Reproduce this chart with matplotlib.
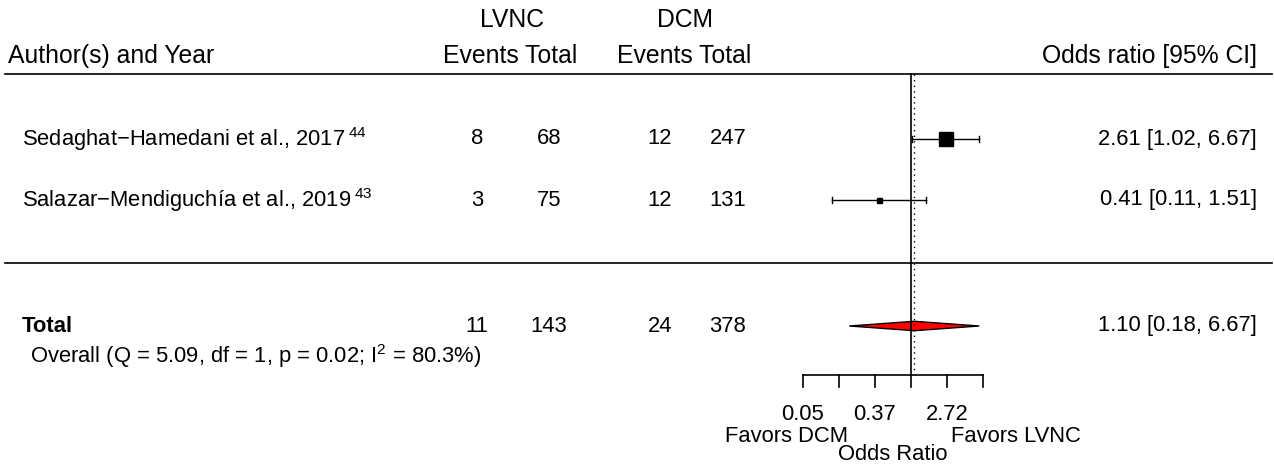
import numpy as np
import matplotlib
matplotlib.use("Agg")
import matplotlib.pyplot as plt
from matplotlib.patches import Polygon

plt.rcParams['font.family'] = ['Liberation Sans', 'DejaVu Sans']
plt.rcParams['mathtext.default'] = 'regular'

# data
studies = ['Sedaghat\u2212Hamedani et al., 2017', 'Salazar\u2212Mendiguch\u00eda et al., 2019']
refs = ['44', '43']
lvnc_events = [8, 3]
lvnc_total = [68, 75]
dcm_events = [12, 12]
dcm_total = [247, 131]
odds_ratio = [2.61, 0.41]
ci_low = [1.02, 0.11]
ci_high = [6.67, 1.51]

pooled_or = 1.10
pooled_low = 0.18
pooled_high = 6.67
het_q = 5.09
het_df = 1
het_p = 0.02
het_i2 = 80.3

axis_ticks = [-3, -2, -1, 0, 1, 2]
labeled_ticks = [-3, -1, 1]

# layout (pixel based helpers)
W, H = 1274, 468
X0, XS = 911, 36.0      # pixel of log(OR)=0, pixels per log unit
Y1, YS = 200, 61.0      # pixel of row 1, pixels per row
FS = 15.8
FSH = 17.8              # header text


def xpx(px):
    return (px - X0) / XS


def ypx(py):
    return 1 + (Y1 - py) / YS


fig = plt.figure(figsize=(W / 100, H / 100), dpi=100)
ax = fig.add_axes([0, 0, 1, 1])
ax.set_xlim(xpx(0), xpx(W))
ax.set_ylim(ypx(H), ypx(0))
ax.axis('off')

k = len(studies)
rows = np.arange(k, 0, -1)
lor = np.log(odds_ratio)
llo = np.log(ci_low)
lhi = np.log(ci_high)

# weights -> square size (metafor style scaling)
se = (lhi - llo) / (2 * 1.96)
w = 1 / se ** 2
psize = (w - w.min()) / (w.max() - w.min()) * (10.2 - 3.6) + 3.6

top = ypx(74)
bottom = ypx(375)
ax.plot([xpx(5), xpx(1272)], [top, top], color='black', lw=1.2)
ax.plot([xpx(5), xpx(1272)], [ypx(263), ypx(263)], color='black', lw=1.2)
ax.plot([0, 0], [top, bottom], color='black', lw=1.2)
ax.plot([np.log(pooled_or)] * 2, [top, bottom], color='black', lw=1.0, ls=(0, (1, 3)))

cap = 3 / YS
for i in range(k):
    y = rows[i]
    ax.plot([llo[i], lhi[i]], [y, y], color='black', lw=1.0)
    ax.plot([llo[i], llo[i]], [y - cap, y + cap], color='black', lw=1.0)
    ax.plot([lhi[i], lhi[i]], [y - cap, y + cap], color='black', lw=1.0)
    ax.plot(lor[i], y, marker='s', ms=psize[i], color='black', mec='black')

    ax.text(xpx(22), y, studies[i] + '$\\,^{' + refs[i] + '}$', fontsize=FS, ha='left', va='center')
    ax.text(xpx(477), y, str(lvnc_events[i]), fontsize=FS, ha='center', va='center')
    ax.text(xpx(549), y, str(lvnc_total[i]), fontsize=FS, ha='center', va='center')
    ax.text(xpx(660), y, str(dcm_events[i]), fontsize=FS, ha='center', va='center')
    ax.text(xpx(728), y, str(dcm_total[i]), fontsize=FS, ha='center', va='center')
    ax.text(xpx(1257), y, f'{odds_ratio[i]:.2f} [{ci_low[i]:.2f}, {ci_high[i]:.2f}]',
            fontsize=FS, ha='right', va='center')

# pooled row
yt = ypx(326)
h = 4.7 / YS
lp = np.log(pooled_or)
diamond = Polygon([[np.log(pooled_low), yt], [lp, yt + h], [np.log(pooled_high), yt], [lp, yt - h]],
                  closed=True, facecolor='red', edgecolor='black', lw=1.0)
ax.add_patch(diamond)
ax.text(xpx(22), yt, 'Total', fontsize=FS, fontweight='bold', ha='left', va='center')
ax.text(xpx(477), yt, str(sum(lvnc_events)), fontsize=FS, ha='center', va='center')
ax.text(xpx(549), yt, str(sum(lvnc_total)), fontsize=FS, ha='center', va='center')
ax.text(xpx(660), yt, str(sum(dcm_events)), fontsize=FS, ha='center', va='center')
ax.text(xpx(728), yt, str(sum(dcm_total)), fontsize=FS, ha='center', va='center')
ax.text(xpx(1257), yt, f'{pooled_or:.2f} [{pooled_low:.2f}, {pooled_high:.2f}]',
        fontsize=FS, ha='right', va='center')
ax.text(xpx(30), ypx(356),
        f'Overall (Q = {het_q:.2f}, df = {het_df}, p = {het_p:.2f}; I$^2$ = {het_i2:.1f}%)',
        fontsize=FS, ha='left', va='center')

# headers
ax.text(xpx(8), ypx(56), 'Author(s) and Year', fontsize=FSH, ha='left', va='center')
ax.text(xpx(512), ypx(20), 'LVNC', fontsize=FSH, ha='center', va='center')
ax.text(xpx(510), ypx(56), 'Events Total', fontsize=FSH, ha='center', va='center')
ax.text(xpx(685), ypx(20), 'DCM', fontsize=FSH, ha='center', va='center')
ax.text(xpx(684), ypx(56), 'Events Total', fontsize=FSH, ha='center', va='center')
ax.text(xpx(1257), ypx(56), 'Odds ratio [95% CI]', fontsize=FSH, ha='right', va='center')

# x axis
ya = ypx(375)
yt2 = ypx(387)
ax.plot([axis_ticks[0], axis_ticks[-1]], [ya, ya], color='black', lw=1.2)
for t in axis_ticks:
    ax.plot([t, t], [ya, yt2], color='black', lw=1.2)
for t in labeled_ticks:
    ax.text(t, ypx(414), f'{np.exp(t):.2f}', fontsize=FS, ha='center', va='center')
ax.text(xpx(848), ypx(437), 'Favors DCM', fontsize=FS, ha='right', va='center')
ax.text(xpx(951), ypx(437), 'Favors LVNC', fontsize=FS, ha='left', va='center')
ax.text(np.mean([axis_ticks[0], axis_ticks[-1]]), ypx(455), 'Odds Ratio', fontsize=FS,
        ha='center', va='center')

fig.savefig('out.png', dpi=100)
